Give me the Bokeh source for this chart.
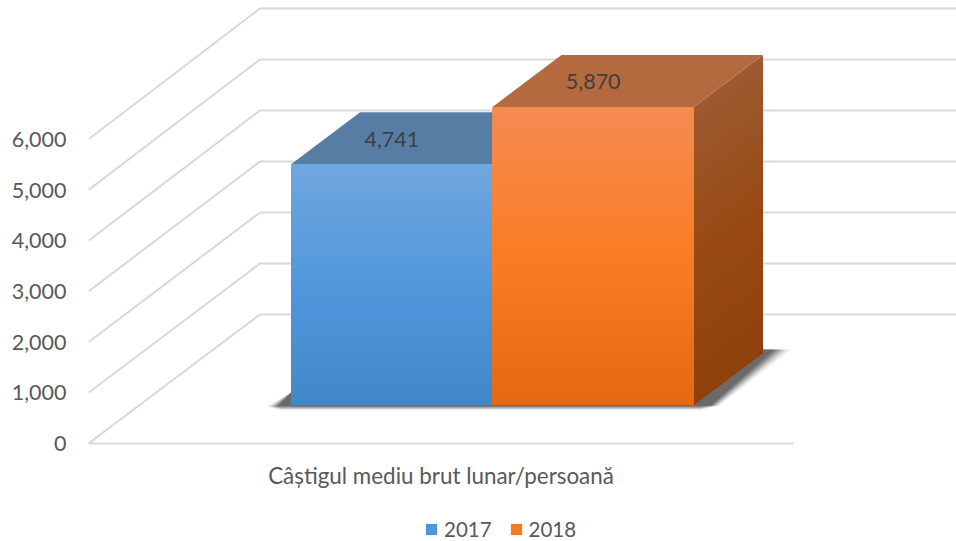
from bokeh.plotting import figure
from bokeh.models import Range1d, FixedTicker, NumeralTickFormatter, Legend, LegendItem, ColumnDataSource
from bokeh.core.properties import value
from bokeh.embed import file_html
from bokeh.resources import INLINE

# ---- data ----
category = "Câștigul mediu brut lunar/persoană"
series_names = ["2017", "2018"]
series_values = [4741, 5870]
value_ticks = [0, 1000, 2000, 3000, 4000, 5000, 6000]

# ---- style: three-stop vertical gradients (bottom, middle, top) ----
front_stops = [[(66, 135, 200), (80, 151, 220), (112, 166, 222)],
               [(228, 104, 18), (250, 125, 35), (245, 138, 80)]]
side_stops = [[(50, 90, 135), (55, 95, 140), (65, 105, 150)],
              [(143, 65, 13), (152, 74, 20), (156, 90, 48)]]
top_colors = ["#577DA5", "#B5693F"]
legend_colors = ["#5096DC", "#F57B22"]
GRID = "#D9D9D9"
TEXT = "#595959"
LABEL = "#404040"
FONT = "Lato"

# ---- projection (screen units) ----
K = 0.0507          # px per value unit on the front plane
FRAME_L, FRAME_R = 88, 956
FRAME_T, FLOOR, FRAME_B = 0, 443, 541
WALL_DX, WALL_DY = 171.5, 129
FRONT_R = 793
BAR_L, BAR_W = 290.6, 201.4
BASE_DY = 39
DEPTH_DX, DEPTH_DY = 69, 52
N = 60


def up(px):
    return px / K


def mix(stops, t):
    if t < 0.5:
        a, b, f = stops[0], stops[1], t / 0.5
    else:
        a, b, f = stops[1], stops[2], (t - 0.5) / 0.5
    c = [round(a[i] + (b[i] - a[i]) * f) for i in range(3)]
    return "#%02X%02X%02X" % tuple(c)


p = figure(width=956, height=541,
           x_range=Range1d(FRAME_L, FRAME_R), y_range=Range1d(-up(FRAME_B - FLOOR), up(FLOOR - FRAME_T)),
           x_axis_location=None,
           output_backend="svg", toolbar_location=None,
           min_border_left=88, min_border_right=0, min_border_top=0, min_border_bottom=0)
p.outline_line_color = None
p.grid.visible = False

# value axis
ya = p.yaxis[0]
ya.ticker = FixedTicker(ticks=value_ticks)
ya.formatter = NumeralTickFormatter(format="0,0")
ya.axis_line_color = None
ya.major_tick_line_color = None
ya.minor_tick_line_color = None
ya.major_label_standoff = 16
ya.major_label_text_font = FONT
ya.major_label_text_font_size = "21.5px"
ya.major_label_text_color = TEXT

# floor front edge and category label
p.line([FRAME_L, FRONT_R], [0, 0], line_color=GRID, line_width=2)
p.text([(FRAME_L + FRONT_R) / 2], [-up(32)], text=[category], text_font=value(FONT),
       text_font_size="22.4px", text_color=TEXT, text_align="center", text_baseline="middle")

# gridlines on floor/wall
wall_k = 0.051 / K
for v in value_ticks:
    back = v * wall_k + up(WALL_DY)
    p.line([FRAME_L, FRAME_L + WALL_DX, FRAME_R + 5], [v, back, back], line_color=GRID, line_width=2)

# soft shadow on the floor
bl, br = BAR_L, BAR_L + 2 * BAR_W
b0 = up(BASE_DY)
for grow, alpha in [(4, 0.05), (3, 0.08), (2, 0.12), (1, 0.16), (0, 0.22), (-1, 0.25), (-2, 0.25)]:
    xs = [bl - 17 - grow * 2, bl, bl, br, br + DEPTH_DX, br + DEPTH_DX,
          br + DEPTH_DX + 17 + grow * 3, br + 20 + grow * 1.5, br + 6, bl - 10]
    ys = [b0 - up(2), b0 + up(12), b0, b0, b0 + up(DEPTH_DY), b0 + up(DEPTH_DY + 3),
          b0 + up(DEPTH_DY + 3), b0 - up(1), b0 - up(3 + grow * 0.7), b0 - up(3 + grow * 0.7)]
    p.patch(xs, ys, fill_color="#303030", fill_alpha=alpha, line_color=None)

# bars
legend_items = []
for i, (name, val) in enumerate(zip(series_names, series_values)):
    x0, x1 = BAR_L + i * BAR_W, BAR_L + (i + 1) * BAR_W
    y0, y1 = b0, b0 + val
    # side face, painted from the top down so that the slices never show seams
    sx, sy, sc = [], [], []
    for k in range(N, 0, -1):
        yt = y0 + val * k / N
        sx.append([x1, x1 + DEPTH_DX, x1 + DEPTH_DX, x1])
        sy.append([y0, y0 + up(DEPTH_DY), yt + up(DEPTH_DY), yt])
        sc.append(mix(side_stops[i], k / N))
    p.patches(sx, sy, fill_color=sc, line_color=None)
    # top face
    p.patch([x0, x1, x1 + DEPTH_DX, x0 + DEPTH_DX], [y1, y1, y1 + up(DEPTH_DY), y1 + up(DEPTH_DY)],
            fill_color=top_colors[i], line_color=None)
    # front face
    base = p.quad(left=[x0], right=[x1], bottom=[y0], top=[y1], fill_color=legend_colors[i], line_color=None)
    src = ColumnDataSource(dict(
        top=[y0 + val * k / N for k in range(N, 0, -1)],
        color=[mix(front_stops[i], k / N) for k in range(N, 0, -1)]))
    p.quad(left=x0, right=x1, bottom=y0, top="top", fill_color="color", line_color=None, source=src)
    legend_items.append(LegendItem(label=name, renderers=[base]))
    # value label on the top face
    p.text([(x0 + x1) / 2], [y1 + up(DEPTH_DY / 2 - 1)], text=[f"{val:,}"], text_font=value(FONT),
           text_font_size="21.5px", text_color=LABEL, text_align="center", text_baseline="middle")

legend = Legend(items=legend_items, orientation="horizontal", location=(336, 0),
                border_line_color=None, background_fill_alpha=0,
                glyph_width=14, glyph_height=14, spacing=17, label_standoff=6, margin=0, padding=0,
                label_text_font=FONT, label_text_font_size="20.5px", label_text_color=TEXT)
p.add_layout(legend, "center")

open("out.html", "w").write(file_html(p, INLINE))
